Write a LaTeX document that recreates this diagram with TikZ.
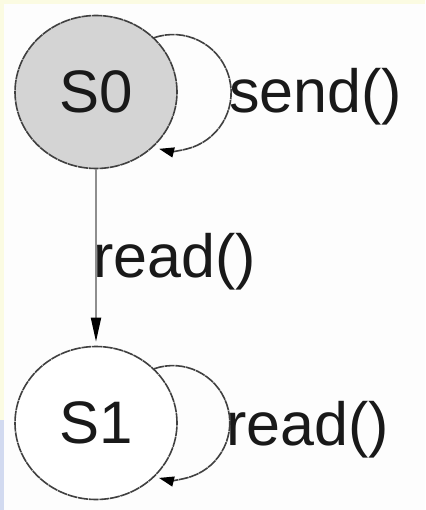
\documentclass[tikz,border=0pt]{standalone}
\usepackage{fontspec}
\setmainfont{Liberation Sans}
\usetikzlibrary{arrows.meta,shapes.geometric}
\definecolor{bgwhite}{HTML}{FDFDFD}
\definecolor{edgeyellow}{HTML}{FBFBE2}
\definecolor{edgeblue}{HTML}{D2DAF0}
\definecolor{stategray}{HTML}{D4D4D4}
\definecolor{edgegray}{HTML}{404040}
\definecolor{linegray}{HTML}{8E8E8E}
\begin{document}
\begin{tikzpicture}[x=1pt,y=-1pt,
  statenode/.style={ellipse,draw=edgegray,line width=1.6pt,dash pattern=on 10pt off 0.7pt,
    minimum width=162pt,minimum height=153pt,inner sep=0pt,
    font=\fontsize{60}{60}\selectfont,text=black!90},
  lbl/.style={anchor=base west,inner sep=0pt,font=\fontsize{61}{61}\selectfont,text=black!90},
  loopedge/.style={draw=edgegray,line width=1.6pt,dash pattern=on 10pt off 0.7pt,
    -{Triangle[length=15pt,width=10pt,color=black]}},
  vedge/.style={draw=linegray,line width=1.8pt,shorten >=4pt,
    -{Triangle[length=24pt,width=10pt,color=black]}}]
\useasboundingbox (0,0) rectangle (425,510);
\fill[bgwhite] (0,0) rectangle (425,510);
\fill[edgeyellow] (0,0) rectangle (425,4);
\fill[edgeyellow] (0,0) rectangle (4,420);
\fill[edgeblue] (0,420) rectangle (4,510);
\node[statenode,fill=stategray] (s0) at (96,92) {S0};
\node[statenode,fill=white] (s1) at (96,423) {S1};
\draw[vedge] (s0) -- (s1);
\draw[loopedge] (s0.43) arc[start angle=-109,end angle=104,radius=58];
\draw[loopedge] (s1.43) arc[start angle=-109,end angle=104,radius=57];
\node[lbl] (lsend) at (229,113) {send()};
\node[lbl] (lread1) at (93,277) {read()};
\node[lbl] (lread2) at (226,445) {read()};
\end{tikzpicture}
\end{document}
